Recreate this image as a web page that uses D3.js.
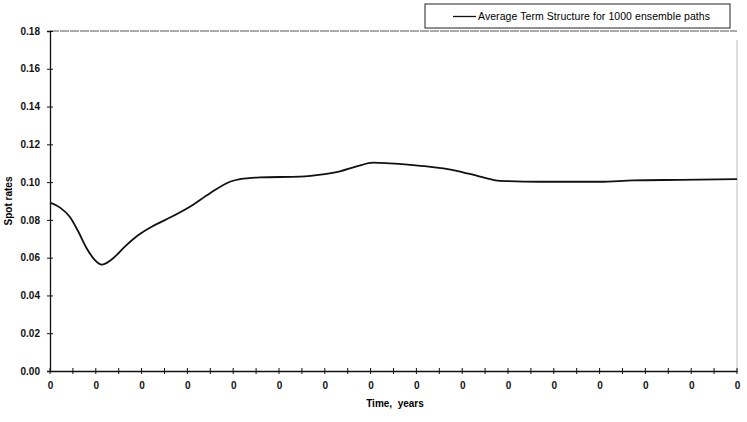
<!DOCTYPE html>
<html>
<head>
<meta charset="utf-8">
<script src="https://cdn.jsdelivr.net/npm/d3@7"></script>
<style>
  body { margin: 0; background: #fff; }
  text { font-family: "Liberation Sans", Arial, sans-serif; }
</style>
</head>
<body>
<div id="chart"></div>
<script>
const width = 747;
const height = 422;
const margin = {top: 31, right: 10, bottom: 51, left: 50};

// data
const times = [0, 0.0044, 0.0087, 0.0124, 0.0160, 0.0197, 0.0226, 0.0269, 0.0328, 0.0386, 0.0444,
  0.0502, 0.0611, 0.0699, 0.0786, 0.0830, 0.0917, 0.1092, 0.1192, 0.1266, 0.1339, 0.1412, 0.1485,
  0.1629, 0.1776, 0.1878, 0.1965, 0.2140, 0.2402, 0.2546, 0.2751, 0.3000];
const spotRates = [0.0891, 0.0865, 0.0815, 0.0737, 0.0650, 0.0586, 0.0563, 0.0590, 0.0660, 0.0720, 0.0764,
  0.0799, 0.0870, 0.0941, 0.1002, 0.1016, 0.1025, 0.1029, 0.1041, 0.1057, 0.1083, 0.1103, 0.1099,
  0.1085, 0.1060, 0.1029, 0.1007, 0.1002, 0.1002, 0.1009, 0.1012, 0.1016];
const yTicks = [0, 0.02, 0.04, 0.06, 0.08, 0.10, 0.12, 0.14, 0.16, 0.18];
const xTicks = d3.range(16).map(i => i * 0.02);
const xMinor = d3.range(31).map(i => i * 0.01);
const legendLabel = "Average Term Structure for 1000 ensemble paths";

const svg = d3.select("#chart")
  .append("svg")
  .attr("width", width)
  .attr("height", height);

const x = d3.scaleLinear()
  .domain([0, 0.3])
  .range([margin.left, width - margin.right]);

const y = d3.scaleLinear()
  .domain([0, 0.18])
  .range([height - margin.bottom, margin.top]);

// frame: top and right borders are faint in the scan
svg.append("line")
  .attr("x1", x(0)).attr("x2", x(0.3))
  .attr("y1", y(0.18)).attr("y2", y(0.18))
  .attr("stroke", "#555").attr("stroke-width", 1)
  .attr("stroke-dasharray", "9,1");

svg.append("line")
  .attr("x1", x(0.3)).attr("x2", x(0.3))
  .attr("y1", y(0.175)).attr("y2", y(0))
  .attr("stroke", "#777").attr("stroke-width", 1)
  .attr("stroke-dasharray", "1,1");

// y axis
const yAxis = svg.append("g")
  .attr("transform", `translate(${x(0)},0)`)
  .call(d3.axisLeft(y).tickValues(yTicks).tickFormat(d3.format(".2f")).tickSize(3).tickPadding(7));
yAxis.select(".domain").attr("stroke", "#111").attr("stroke-width", 1.3);
yAxis.selectAll(".tick line").attr("x2", 3).attr("x1", -3).attr("stroke", "#111");
yAxis.selectAll("text")
  .attr("font-size", 10).attr("font-weight", "bold").attr("fill", "#111");

// x axis, labels are times rounded to whole years
const xAxis = svg.append("g")
  .attr("transform", `translate(0,${y(0)})`)
  .call(d3.axisBottom(x).tickValues(xTicks).tickFormat(d3.format(".0f")).tickSize(0).tickPadding(11));
xAxis.select(".domain").attr("stroke", "#111").attr("stroke-width", 1.3);
xAxis.selectAll("text")
  .attr("font-size", 10).attr("font-weight", "bold").attr("fill", "#111");

svg.append("g")
  .selectAll("line")
  .data(xMinor)
  .join("line")
    .attr("x1", d => x(d)).attr("x2", d => x(d))
    .attr("y1", y(0) - 3).attr("y2", y(0) + 3)
    .attr("stroke", "#111").attr("stroke-width", 1);

// axis titles
svg.append("text")
  .attr("transform", `translate(12,${y(0.09)}) rotate(-90)`)
  .attr("text-anchor", "middle")
  .attr("font-size", 10).attr("font-weight", "bold")
  .text("Spot rates");

svg.append("text")
  .attr("x", 395).attr("y", 407)
  .attr("text-anchor", "middle")
  .attr("font-size", 10).attr("font-weight", "bold")
  .attr("xml:space", "preserve")
  .text("Time,  years");

// the curve
const line = d3.line()
  .x((d, i) => x(times[i]))
  .y(d => y(d))
  .curve(d3.curveMonotoneX);

svg.append("path")
  .datum(spotRates)
  .attr("fill", "none")
  .attr("stroke", "#111")
  .attr("stroke-width", 1.8)
  .attr("d", line);

// legend
const legend = svg.append("g").attr("transform", "translate(425,4)");
legend.append("rect")
  .attr("width", 305).attr("height", 24)
  .attr("fill", "#fff").attr("stroke", "#222").attr("stroke-width", 1);
legend.append("line")
  .attr("x1", 28).attr("x2", 51).attr("y1", 12.5).attr("y2", 12.5)
  .attr("stroke", "#111").attr("stroke-width", 1.3);
legend.append("text")
  .attr("x", 53).attr("y", 16)
  .attr("font-size", 10.5)
  .attr("textLength", 232)
  .text(legendLabel);
</script>
</body>
</html>
